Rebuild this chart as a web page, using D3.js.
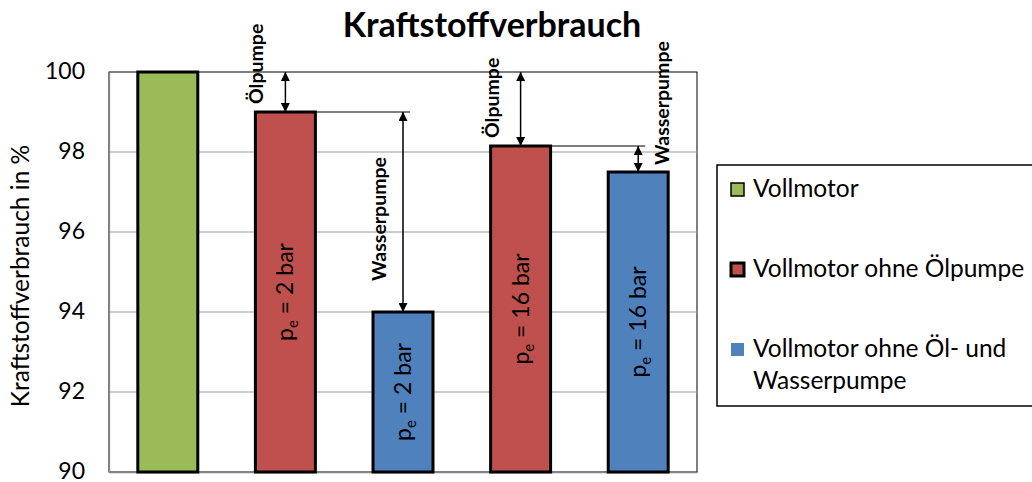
<!DOCTYPE html>
<html>
<head>
<meta charset="utf-8">
<script src="https://cdn.jsdelivr.net/npm/d3@7/dist/d3.min.js"></script>
<style>
  html, body { margin: 0; padding: 0; background: #fff; }
  svg { display: block; font-family: Lato, "Open Sans", sans-serif; }
</style>
</head>
<body>
<svg id="chart" width="1032" height="482"></svg>
<script>
// ---- data ----
const categories = ["Vollmotor", "ohne Ölpumpe 2 bar", "ohne Öl- und Wasserpumpe 2 bar", "ohne Ölpumpe 16 bar", "ohne Öl- und Wasserpumpe 16 bar"];
const values = [100, 99.0, 94.0, 98.15, 97.5];
const seriesIndex = [0, 1, 2, 1, 2];
const seriesNames = ["Vollmotor", "Vollmotor ohne Ölpumpe", "Vollmotor ohne Öl- und Wasserpumpe"];
const seriesColors = ["#9BBB59", "#C0504D", "#4F81BD"];
const pressureLabels = [null, "2", "2", "16", "16"];
const yTicks = [90, 92, 94, 96, 98, 100];
// annotations: difference arrows between bars (from index -> to index)
const annFrom = [0, 1, 0, 3];
const annTo = [1, 2, 3, 4];
const annText = ["Ölpumpe", "Wasserpumpe", "Ölpumpe", "Wasserpumpe"];
const titleText = "Kraftstoffverbrauch";
const yAxisTitle = "Kraftstoffverbrauch in %";

// ---- layout ----
const svg = d3.select("#chart");
const plot = { left: 109, right: 697, top: 72, bottom: 472 };

const x = d3.scaleBand().domain(d3.range(categories.length))
  .range([plot.left, plot.right]).paddingInner(0.49).paddingOuter(0.245);
const y = d3.scaleLinear().domain([90, 100]).range([plot.bottom, plot.top]);

// defs: arrow marker
const defs = svg.append("defs");
defs.append("marker").attr("id", "arr")
  .attr("viewBox", "0 0 10 10").attr("refX", 10).attr("refY", 5)
  .attr("markerUnits", "userSpaceOnUse").attr("markerWidth", 10).attr("markerHeight", 9)
  .attr("orient", "auto-start-reverse")
  .append("path").attr("d", "M0,0 L10,5 L0,10 Z").attr("fill", "#000");

// title
svg.append("text").attr("x", 492).attr("y", 37)
  .attr("text-anchor", "middle").attr("font-weight", "bold").attr("font-size", 34)
  .attr("fill", "#000").text(titleText);

// plot border
svg.append("rect").attr("x", plot.left).attr("y", plot.top)
  .attr("width", plot.right - plot.left).attr("height", plot.bottom - plot.top)
  .attr("fill", "none").attr("stroke", "#000").attr("stroke-width", 1);

// gridlines
svg.append("g").selectAll("line").data(yTicks.filter(t => t > 90 && t < 100)).join("line")
  .attr("x1", plot.left).attr("x2", plot.right)
  .attr("y1", d => y(d)).attr("y2", d => y(d))
  .attr("stroke", "#999").attr("stroke-width", 1.2);

// y axis
const yAxis = d3.axisLeft(y).tickValues(yTicks).tickSize(0).tickPadding(24).tickFormat(d3.format("d"));
const gy = svg.append("g").attr("transform", `translate(${plot.left},0)`).call(yAxis);
gy.select(".domain").attr("stroke", "#868686").attr("stroke-width", 1.2);
gy.selectAll("text").attr("font-size", 23).attr("fill", "#000").attr("dy", "0.3em")
  .attr("font-family", "Lato, 'Open Sans', sans-serif");

// x axis line
const xAxis = d3.axisBottom(x).tickSize(0).tickFormat(() => "");
const gx = svg.append("g").attr("transform", `translate(0,${plot.bottom})`).call(xAxis);
gx.select(".domain").attr("stroke", "#868686").attr("stroke-width", 1.5);

// y axis title
svg.append("text").attr("transform", `translate(29,${(plot.top + plot.bottom) / 2 + 4}) rotate(-90)`)
  .attr("text-anchor", "middle").attr("font-size", 24.5).attr("fill", "#000").text(yAxisTitle);

// bars
svg.append("g").selectAll("rect").data(values).join("rect")
  .attr("x", (d, i) => x(i)).attr("width", x.bandwidth())
  .attr("y", d => y(d)).attr("height", d => y(90) - y(d))
  .attr("fill", (d, i) => seriesColors[seriesIndex[i]])
  .attr("stroke", "#000").attr("stroke-width", 3);

// bar labels
values.forEach((v, i) => {
  if (!pressureLabels[i]) return;
  const cx = x(i) + x.bandwidth() / 2;
  const cy = (y(v) + y(90)) / 2;
  const t = svg.append("text")
    .attr("transform", `translate(${cx + 8},${cy}) rotate(-90)`)
    .attr("text-anchor", "middle").attr("font-size", 23).attr("fill", "#000");
  t.append("tspan").text("p");
  t.append("tspan").attr("font-size", 15).attr("dy", 5).text("e");
  t.append("tspan").attr("dy", -5).text(" = " + pressureLabels[i] + " bar");
});

// annotations
const ag = svg.append("g");
annFrom.forEach((f, k) => {
  const t = annTo[k];
  const cxT = x(t) + x.bandwidth() / 2;
  const y1 = y(values[f]);
  const y2 = y(values[t]);
  if (f !== 0) {
    ag.append("line").attr("x1", x(f) + x.bandwidth()).attr("x2", cxT + 7)
      .attr("y1", y1).attr("y2", y1).attr("stroke", "#000").attr("stroke-width", 1.2);
  }
  ag.append("line").attr("x1", cxT).attr("x2", cxT).attr("y1", y1).attr("y2", y2)
    .attr("stroke", "#000").attr("stroke-width", 1.5)
    .attr("marker-start", "url(#arr)").attr("marker-end", "url(#arr)");
  const txt = ag.append("text").attr("font-weight", "bold").attr("font-size", 19.5).attr("fill", "#000").text(annText[k]);
  if (annText[k] === "Ölpumpe") {
    txt.attr("transform", `translate(${cxT - 22},${y2 - 8}) rotate(-90)`).attr("text-anchor", "start");
  } else if (Math.abs(y2 - y1) > 100) {
    txt.attr("transform", `translate(${cxT - 17},${(y1 + y2) / 2 + 7}) rotate(-90)`).attr("text-anchor", "middle");
  } else {
    txt.attr("transform", `translate(${cxT + 31},${y2 - 7}) rotate(-90)`).attr("text-anchor", "start");
  }
});

// legend
const lg = svg.append("g");
lg.append("rect").attr("x", 717).attr("y", 165).attr("width", 330).attr("height", 241)
  .attr("fill", "#fff").attr("stroke", "#000").attr("stroke-width", 1.5);
const legY = [197, 277, 357];
const swStroke = [1.5, 3, 0];
seriesNames.forEach((name, i) => {
  lg.append("rect").attr("x", 731).attr("y", legY[i] - 14).attr("width", 13).attr("height", 13)
    .attr("fill", seriesColors[i])
    .attr("stroke", swStroke[i] ? "#000" : "none").attr("stroke-width", swStroke[i]);
  const t = lg.append("text").attr("x", 753).attr("y", legY[i]).attr("font-size", 24.5).attr("fill", "#000");
  if (i === 2) {
    t.append("tspan").attr("x", 753).text("Vollmotor ohne Öl- und");
    t.append("tspan").attr("x", 753).attr("dy", 32).text("Wasserpumpe");
  } else {
    t.text(name);
  }
});
</script>
</body>
</html>
